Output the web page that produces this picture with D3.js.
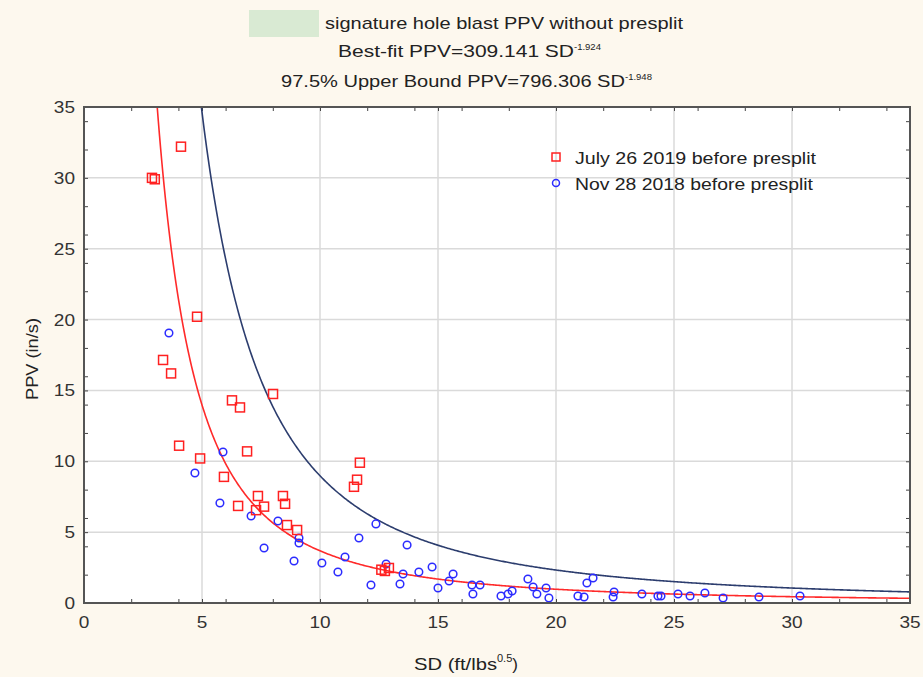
<!DOCTYPE html>
<html>
<head>
<meta charset="utf-8">
<script src="https://cdn.jsdelivr.net/npm/d3@7"></script>
<style>
  html, body { margin: 0; padding: 0; background: #fdf8ee; }
  text { font-family: "Liberation Sans", Arial, sans-serif; }
</style>
</head>
<body>
<div id="container"></div>
<script>
// July 26 2019 before presplit
const julySD  = [2.88, 3.0, 4.11, 3.35, 3.69, 4.79, 4.03, 4.92, 6.27, 6.61, 8.01, 6.91, 5.93, 6.53,
                 7.37, 7.63, 7.29, 8.43, 8.52, 8.6, 9.03, 11.69, 11.57, 11.44, 12.75, 12.92, 12.6];
const julyPPV = [30.0, 29.9, 32.2, 17.15, 16.2, 20.2, 11.1, 10.2, 14.3, 13.8, 14.75, 10.7, 8.9, 6.85,
                 7.55, 6.8, 6.55, 7.55, 7.0, 5.5, 5.15, 9.9, 8.7, 8.2, 2.26, 2.47, 2.35];

// Nov 28 2018 before presplit
const novSD  = [3.6, 5.89, 4.7, 5.76, 7.08, 8.22, 9.11, 9.11, 7.63, 8.9, 10.08, 10.76, 11.06, 11.65,
                12.37, 12.16, 12.8, 13.39, 13.52, 13.69, 14.19, 14.75, 15.0, 15.47, 15.64, 16.44,
                16.48, 16.78, 17.67, 17.97, 18.14, 18.81, 19.03, 19.19, 19.58, 19.7, 20.93, 21.19,
                21.31, 21.57, 22.42, 22.46, 23.64, 24.32, 24.45, 25.17, 25.68, 26.31, 27.08, 28.6, 30.34];
const novPPV = [19.05, 10.66, 9.17, 7.06, 6.14, 5.79, 4.59, 4.23, 3.88, 2.96, 2.82, 2.19, 3.25, 4.59,
                5.58, 1.27, 2.75, 1.34, 2.05, 4.09, 2.19, 2.54, 1.06, 1.55, 2.05, 1.27,
                0.64, 1.27, 0.49, 0.64, 0.85, 1.69, 1.13, 0.64, 1.06, 0.35, 0.49, 0.42,
                1.41, 1.76, 0.42, 0.78, 0.64, 0.49, 0.49, 0.64, 0.49, 0.71, 0.35, 0.42, 0.49];

// fitted curves, PPV = a * SD^b (from the chart title)
const fitA = 309.141, fitB = -1.924;
const upperA = 796.306, upperB = -1.948;

const xTicks = [0, 5, 10, 15, 20, 25, 30, 35];
const yTicks = [0, 5, 10, 15, 20, 25, 30, 35];

const width = 923, height = 677;
const margin = { top: 107, right: 13, bottom: 74, left: 84 };
const w = width - margin.left - margin.right;
const h = height - margin.top - margin.bottom;
const fs = 17;

const svg = d3.select('#container')
  .append('svg')
    .attr('width', width)
    .attr('height', height);

svg.append('rect')
  .attr('width', width).attr('height', height)
  .attr('fill', '#fdf8ee');

// title block
svg.append('rect')
  .attr('x', 249).attr('y', 10).attr('width', 70).attr('height', 27)
  .attr('fill', '#d9ead3');
svg.append('text')
  .attr('x', 325).attr('y', 29)
  .attr('font-size', fs).attr('fill', '#222')
  .attr('textLength', 358).attr('lengthAdjust', 'spacingAndGlyphs')
  .text('signature hole blast PPV without presplit');

function titleLine(y, x0, len, main, sup) {
  const t = svg.append('text')
    .attr('x', x0).attr('y', y)
    .attr('font-size', fs).attr('fill', '#222');
  t.append('tspan')
    .attr('textLength', len).attr('lengthAdjust', 'spacingAndGlyphs')
    .text(main);
  t.append('tspan').attr('dy', -7).attr('font-size', 9.5).text(sup);
}
titleLine(57, 338, 236, 'Best-fit PPV=' + fitA.toFixed(3) + ' SD', fitB.toFixed(3));
titleLine(87, 281, 344, '97.5% Upper Bound PPV=' + upperA.toFixed(3) + ' SD', upperB.toFixed(3));

const g = svg.append('g')
  .attr('transform', `translate(${margin.left},${margin.top})`);

g.append('rect')
  .attr('width', w).attr('height', h)
  .attr('fill', '#ffffff');

const x = d3.scaleLinear().domain([0, 35]).range([0, w]);
const y = d3.scaleLinear().domain([0, 35]).range([h, 0]);

// grid
g.append('g').selectAll('line')
  .data(xTicks.slice(1, -1))
  .enter().append('line')
    .attr('x1', d => x(d)).attr('x2', d => x(d))
    .attr('y1', 0).attr('y2', h)
    .attr('stroke', '#dadada').attr('stroke-width', 1.5);
g.append('g').selectAll('line')
  .data(yTicks.slice(1, -1))
  .enter().append('line')
    .attr('y1', d => y(d)).attr('y2', d => y(d))
    .attr('x1', 0).attr('x2', w)
    .attr('stroke', '#dadada').attr('stroke-width', 1.5);

// inward ticks on all four sides
const minor = d3.range(0, 36).filter(v => v % 2 === 0 || v % 5 === 0);
g.append('g').call(d3.axisBottom(x).tickValues(minor).tickSize(4).tickFormat(''))
  .call(a => a.select('.domain').remove())
  .call(a => a.selectAll('line').attr('y2', -4).attr('stroke', '#444'))
  .attr('transform', `translate(0,${h})`);
g.append('g').call(d3.axisTop(x).tickValues(minor).tickSize(4).tickFormat(''))
  .call(a => a.select('.domain').remove())
  .call(a => a.selectAll('line').attr('y2', 4).attr('stroke', '#444'));
g.append('g').call(d3.axisLeft(y).tickValues(minor).tickSize(4).tickFormat(''))
  .call(a => a.select('.domain').remove())
  .call(a => a.selectAll('line').attr('x2', 4).attr('stroke', '#444'));
g.append('g').call(d3.axisRight(y).tickValues(minor).tickSize(4).tickFormat(''))
  .call(a => a.select('.domain').remove())
  .call(a => a.selectAll('line').attr('x2', -4).attr('stroke', '#444'))
  .attr('transform', `translate(${w},0)`);

// tick labels (slightly stretched like the source)
g.append('g').selectAll('text')
  .data(xTicks)
  .enter().append('text')
    .attr('transform', d => `translate(${x(d)},${h + 25}) scale(1.12,1)`)
    .attr('text-anchor', 'middle')
    .attr('font-size', fs).attr('fill', '#333')
    .text(d => d);
g.append('g').selectAll('text')
  .data(yTicks)
  .enter().append('text')
    .attr('transform', d => `translate(-9,${y(d) + 6}) scale(1.12,1)`)
    .attr('text-anchor', 'end')
    .attr('font-size', fs).attr('fill', '#333')
    .text(d => d);

// axis titles
const xt = svg.append('text')
  .attr('x', 414).attr('y', 670)
  .attr('font-size', fs).attr('fill', '#222');
xt.append('tspan')
  .attr('textLength', 83).attr('lengthAdjust', 'spacingAndGlyphs')
  .text('SD (ft/lbs');
xt.append('tspan').attr('dy', -8).attr('font-size', 11).text('0.5');
xt.append('tspan').attr('dy', 8).text(')');

svg.append('text')
  .attr('transform', 'translate(38,359) rotate(-90)')
  .attr('text-anchor', 'middle')
  .attr('font-size', fs).attr('fill', '#222')
  .attr('textLength', 82).attr('lengthAdjust', 'spacingAndGlyphs')
  .text('PPV (in/s)');

// curves
g.append('clipPath').attr('id', 'plotclip')
  .append('rect').attr('width', w).attr('height', h);

const xs = d3.range(0.5, 35.01, 0.05);
const line = d3.line()
  .x(d => x(d[0]))
  .y(d => y(d[1]));

g.append('path')
  .datum(xs.map(v => [v, upperA * Math.pow(v, upperB)]))
  .attr('clip-path', 'url(#plotclip)')
  .attr('d', line)
  .attr('fill', 'none')
  .attr('stroke', '#2c3d6e')
  .attr('stroke-width', 1.6);

g.append('path')
  .datum(xs.map(v => [v, fitA * Math.pow(v, fitB)]))
  .attr('clip-path', 'url(#plotclip)')
  .attr('d', line)
  .attr('fill', 'none')
  .attr('stroke', '#ff2a2a')
  .attr('stroke-width', 1.6);

// points
g.append('g').selectAll('circle')
  .data(novSD.map((d, i) => [d, novPPV[i]]))
  .enter().append('circle')
    .attr('cx', d => x(d[0])).attr('cy', d => y(d[1]))
    .attr('r', 3.8)
    .attr('fill', 'none')
    .attr('stroke', '#2b2bff')
    .attr('stroke-width', 1.5);

g.append('g').selectAll('rect')
  .data(julySD.map((d, i) => [d, julyPPV[i]]))
  .enter().append('rect')
    .attr('x', d => x(d[0]) - 4.5).attr('y', d => y(d[1]) - 4.5)
    .attr('width', 9).attr('height', 9)
    .attr('fill', 'none')
    .attr('stroke', '#ff2020')
    .attr('stroke-width', 1.5);

// frame
g.append('rect')
  .attr('width', w).attr('height', h)
  .attr('fill', 'none')
  .attr('stroke', '#555')
  .attr('stroke-width', 2);

// legend
const legend = svg.append('g');
legend.append('rect')
  .attr('x', 552).attr('y', 153).attr('width', 8).attr('height', 8)
  .attr('fill', 'none').attr('stroke', '#ff2020').attr('stroke-width', 1.5);
legend.append('text')
  .attr('x', 575).attr('y', 164)
  .attr('font-size', fs).attr('fill', '#222')
  .attr('textLength', 241).attr('lengthAdjust', 'spacingAndGlyphs')
  .text('July 26 2019 before presplit');
legend.append('circle')
  .attr('cx', 556).attr('cy', 183).attr('r', 3.5)
  .attr('fill', 'none').attr('stroke', '#2b2bff').attr('stroke-width', 1.5);
legend.append('text')
  .attr('x', 575).attr('y', 190)
  .attr('font-size', fs).attr('fill', '#222')
  .attr('textLength', 238).attr('lengthAdjust', 'spacingAndGlyphs')
  .text('Nov 28 2018 before presplit');
</script>
</body>
</html>
